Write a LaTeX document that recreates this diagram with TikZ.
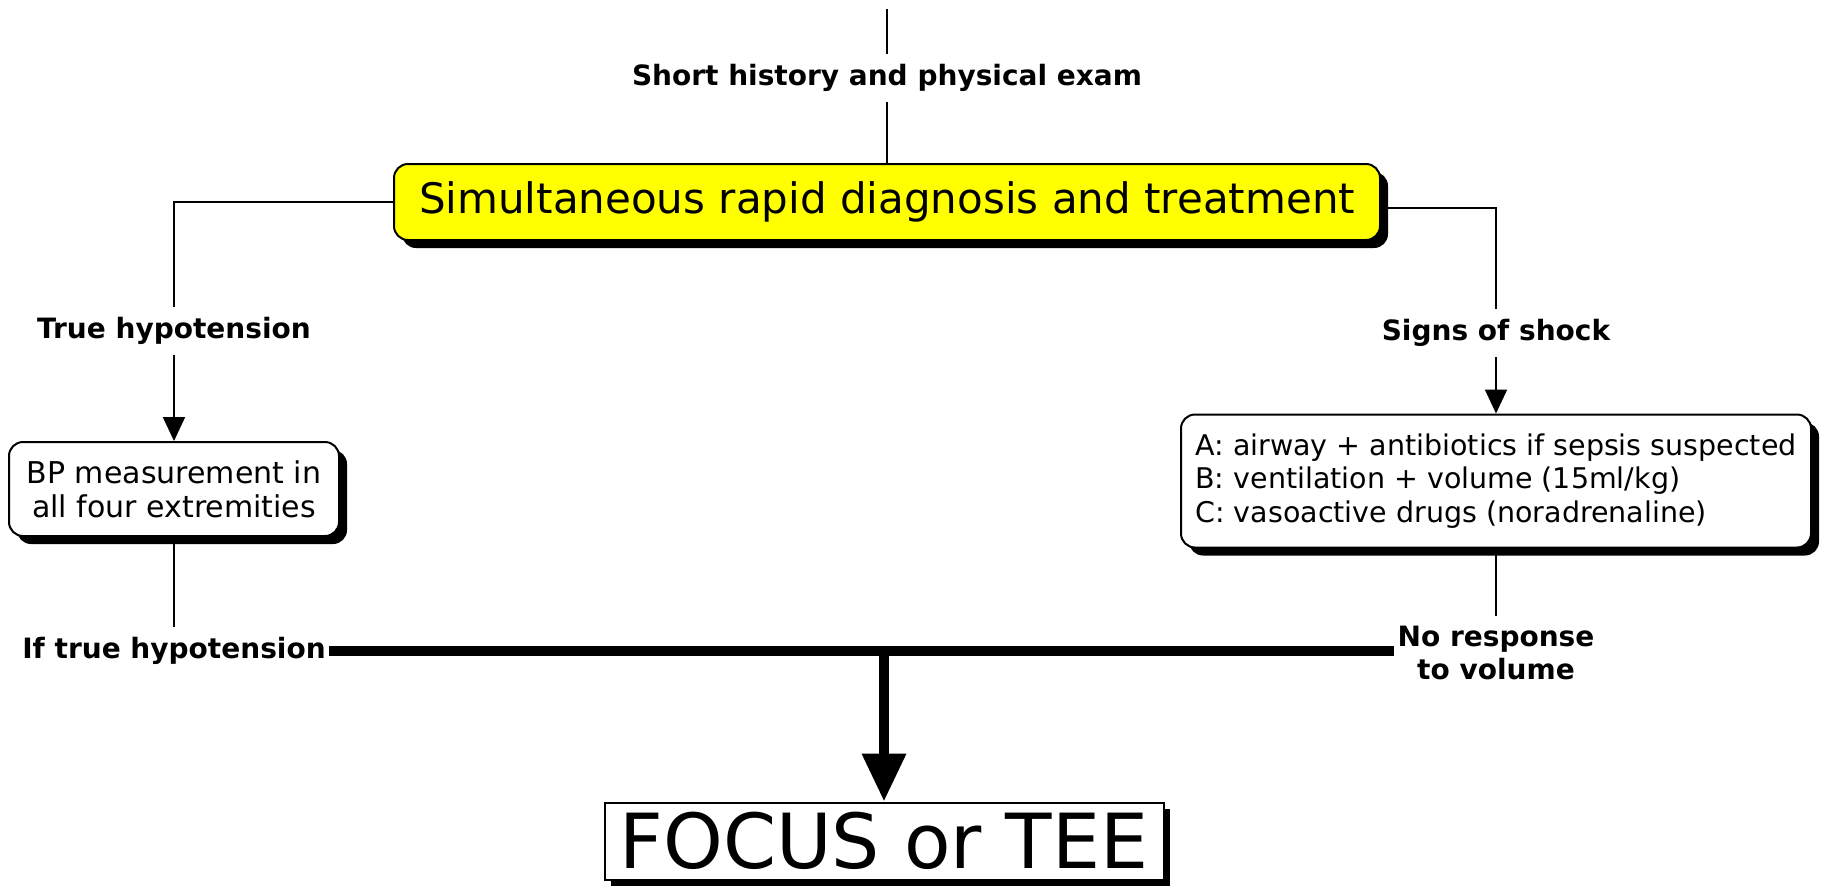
\documentclass[tikz,border=0pt]{standalone}
\usepackage{fontspec}
\setmainfont{DejaVu Sans}
\usetikzlibrary{arrows.meta,shadows,positioning}

\definecolor{boxyellow}{RGB}{255,255,0}

\tikzset{
  shadowed/.style={drop shadow={shadow xshift=8pt, shadow yshift=-8pt, opacity=1, fill=black}},
  flowbox/.style={draw, line width=2pt, rounded corners=14pt, fill=white, align=center,
    shadowed, font=\fontsize{30}{34}\selectfont},
  mainbox/.style={flowbox, fill=boxyellow, font=\fontsize{42}{48}\selectfont},
  endbox/.style={draw, line width=2pt, fill=white, inner sep=0pt,
    drop shadow={shadow xshift=6pt, shadow yshift=-6pt, opacity=1, fill=black},
    font=\fontsize{76}{84}\selectfont},
  steplabel/.style={font=\bfseries\fontsize{28}{33}\selectfont, inner xsep=3pt, inner ysep=10pt, align=center},
  conn/.style={line width=2pt},
  bigline/.style={line width=10pt},
}

\begin{document}
\begin{tikzpicture}[x=1pt, y=-1pt, >={Triangle[width=22pt,length=24pt]}]
    \useasboundingbox (0,0) rectangle (1834,889);

    % --- Top ---
    \coordinate (top) at (887,9);
    \node[steplabel] (hist) at (887,78) {Short history and physical exam};
    \node[mainbox, minimum width=986pt, minimum height=76pt] (diag) at (887,202)
        {Simultaneous rapid diagnosis and treatment};

    % --- Left branch ---
    \node[steplabel] (truehyp) at (174,331) {True hypotension};
    \node[flowbox, minimum width=330pt, minimum height=94pt] (bp) at (174,489)
        {BP measurement in\\all four extremities};
    \node[steplabel] (ifhyp) at (174,651) {If true hypotension};

    % --- Right branch ---
    \node[steplabel] (shock) at (1496,333) {Signs of shock};
    \node[flowbox, align=left, minimum width=630pt, minimum height=133pt,
          font=\fontsize{28.5}{33.5}\selectfont] (abc) at (1496,481)
        {A: airway + antibiotics if sepsis suspected\\
         B: ventilation + volume (15ml/kg)\\
         C: vasoactive drugs (noradrenaline)};
    \node[steplabel] (noresp) at (1496,653) {No response\\to volume};

    % --- Result ---
    \node[endbox, minimum width=559pt, minimum height=77pt] (focus) at (884,841) {FOCUS or TEE};

    % --- Connectors ---
    \draw[conn] (top) -- (hist);
    \draw[conn] (hist) -- (diag);
    \draw[conn] (diag.west) -| (truehyp);
    \draw[conn, ->] (truehyp) -- (bp);
    \draw[conn] (bp) -- (ifhyp);
    \draw[conn] ([yshift=-6pt]diag.east) -| (shock);
    \draw[conn, ->] (shock) -- (abc);
    \draw[conn] (abc) -- (noresp);

    % thick join line and arrow
    \draw[bigline] (ifhyp.east) -- (ifhyp.east -| noresp.west);
    \coordinate (join) at (focus.north |- ifhyp.east);
    \draw[bigline, -{Triangle[width=42pt,length=48pt]}] (join) -- (focus);
\end{tikzpicture}
\end{document}
